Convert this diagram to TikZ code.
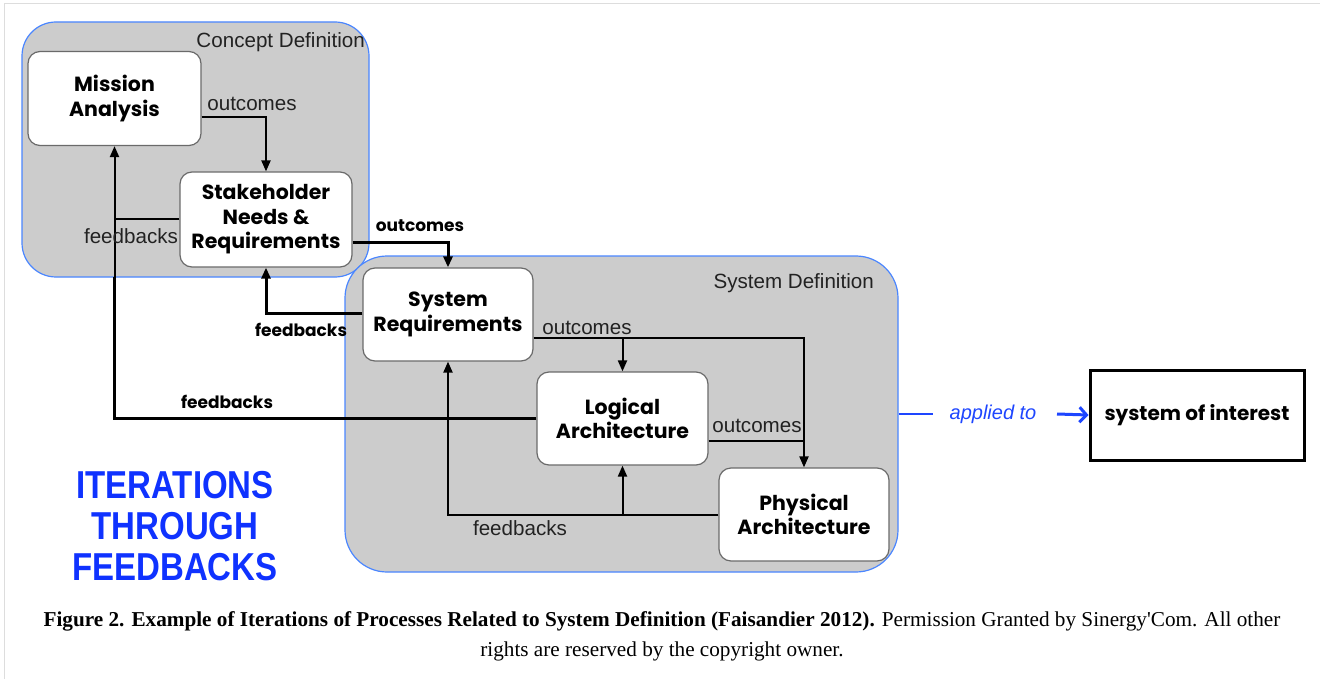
\documentclass[tikz,border=0pt]{standalone}
\usepackage{fontspec}
\setmainfont{Liberation Serif}
\newfontfamily\capfont[Ligatures=TeXOff]{Liberation Serif}
\newfontfamily\boxfont{Poppins}
\newfontfamily\labfont{Liberation Sans}
\usetikzlibrary{calc,arrows.meta}
\definecolor{regfill}{HTML}{CCCCCC}
\definecolor{regline}{HTML}{4A86FF}
\definecolor{boxline}{HTML}{6A6A6A}
\definecolor{iterblue}{HTML}{0F32FF}
\definecolor{appblue}{HTML}{1E46FF}
\definecolor{framegray}{HTML}{DDDDDD}
\definecolor{labgray}{HTML}{222222}
\tikzset{
  region/.style={draw=regline,fill=regfill,line width=1.2pt,rounded corners=34pt,inner sep=0pt},
  procbox/.style={draw=boxline,fill=white,line width=1.2pt,rounded corners=12pt,inner sep=0pt,
    minimum width=171pt,minimum height=93pt,align=center,
    font=\boxfont\bfseries\fontsize{20.5}{24.5}\selectfont},
  lab/.style={font=\labfont\fontsize{20.6}{22}\selectfont,text=labgray,inner sep=0pt},
  blab/.style={font=\boxfont\bfseries\fontsize{17}{20}\selectfont,inner sep=0pt},
  thin/.style={line width=2pt},
  thk/.style={line width=3pt},
  arr/.style={-{Triangle[length=11pt,width=9pt]}},
}
\begin{document}
\begin{tikzpicture}[x=1pt,y=-1pt]
\useasboundingbox (0,0) rectangle (1320,679);
\fill[white] (0,0) rectangle (1320,679);
\draw[framegray,line width=1.5pt] (4.5,679) -- (4.5,3.5) -- (1320,3.5);
% regions
\node[region,minimum width=347pt,minimum height=255pt] (CD) at (195.5,149.5) {};
\node[region,rounded corners=42pt,minimum width=553pt,minimum height=316pt] (SD) at (621.5,414) {};
\node[lab,anchor=east] (CDl) at (365,42) {Concept Definition};
\node[lab,anchor=east] (SDl) at (874,283) {System Definition};
% boxes
\node[procbox,minimum width=173pt,minimum height=94pt] (MA) at (114.5,98.5) {Mission\\Analysis};
\node[procbox,minimum width=172pt,minimum height=95pt] (SN) at (266,219.5) {Stakeholder\\Needs \&\\Requirements};
\node[procbox,minimum width=170pt] (SR) at (448,314.5) {System\\Requirements};
\node[procbox] (LA) at (622.5,418.5) {Logical\\Architecture};
\node[procbox,minimum width=170pt] (PA) at (804,514.5) {Physical\\Architecture};
% anchor coordinates
\coordinate (MAo) at ($(MA.east)+(0,18.5)$);
\coordinate (SNo) at ($(SN.east)+(0,23.5)$);
\coordinate (SRf) at ($(SR.west)+(0,-1.5)$);
\coordinate (SRo) at ($(SR.east)+(0,23.5)$);
\coordinate (LAo) at ($(LA.east)+(0,22.5)$);
\coordinate (cfb) at (114.5,277);
% concept definition connectors
\draw[thin,arr] (MAo) -| (SN.north);
\draw[thin,arr] (cfb) -- (MA.south);
\draw[thin] (SN.west) -- (SN.west -| MA.south);
\node[lab] (l1) at (252,104) {outcomes};
\node[lab] (l2) at (131,236) {feedbacks};
% between regions
\draw[thk,arr] (SNo) -| (SR.north);
\draw[thk,arr] (SRf) -| (SN.south);
\draw[thk] (LA.west) -| (cfb);
\node[blab] (l3) at (420,226) {outcomes};
\node[blab] (l4) at (301,330) {feedbacks};
\node[blab] (l5) at (227,402) {feedbacks};
% system definition connectors
\draw[thin,arr] (SRo) -| (PA.north);
\draw[thin,arr] (SRo -| LA.north) -- (LA.north);
\draw[thin] (LAo) -- (LAo -| PA.north);
\draw[thin,arr] (PA.west) -| (SR.south);
\draw[thin,arr] (PA.west -| LA.south) -- (LA.south);
\node[lab] (l6) at (587,328) {outcomes};
\node[lab] (l7) at (757,426) {outcomes};
\node[lab] (l8) at (520,528) {feedbacks};
% applied to
\node[draw=black,line width=3pt,minimum width=214pt,minimum height=90pt,inner sep=0pt,
  font=\boxfont\bfseries\fontsize{20}{22}\selectfont] (SOI) at (1197,415) {system of interest};
\coordinate (bl) at (933,414);
\coordinate (ba) at (1057,414);
\draw[appblue,line width=2.5pt] (SD.east) -- (bl);
\node[font=\labfont\itshape\fontsize{20}{22}\selectfont,text=appblue,inner sep=0pt] (ap) at (993,414) {applied to};
\draw[appblue,line width=3pt,-{Straight Barb[length=7pt,width=15pt]}] (ba) -- (SOI.west);
% iterations
\node[font=\labfont\bfseries\fontsize{33}{41}\selectfont,text=iterblue,align=center,inner sep=0pt] (it) at (175,526)
 {\scalebox{1}[1.18]{ITERATIONS}\\\scalebox{1}[1.18]{THROUGH}\\\scalebox{1}[1.18]{FEEDBACKS}};
% caption
\node[font=\capfont\fontsize{21.2}{24}\selectfont,inner sep=0pt] (c1) at (662,621)
 {\textbf{Figure 2. Example of Iterations of Processes Related to System Definition (Faisandier 2012).} Permission Granted by Sinergy'Com. All other};
\node[font=\capfont\fontsize{21.2}{24}\selectfont,inner sep=0pt] (c2) at (662,651) {rights are reserved by the copyright owner.};
\end{tikzpicture}
\end{document}
